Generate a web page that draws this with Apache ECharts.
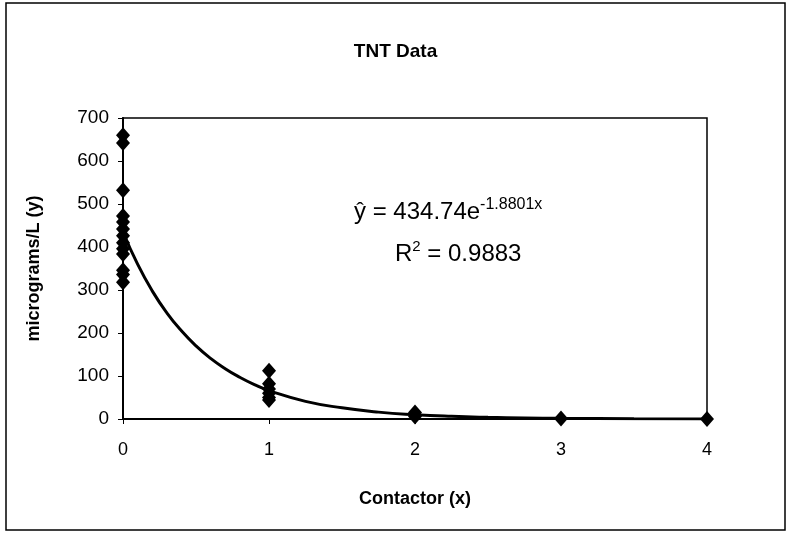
<!DOCTYPE html>
<html><head><meta charset="utf-8">
<script src="https://cdn.jsdelivr.net/npm/echarts@6/dist/echarts.min.js"></script>
<style>html,body{margin:0;padding:0;background:#fff}#c{width:791px;height:536px}</style>
</head><body><div id="c"></div>
<script>
var titleText = 'TNT Data';
var xName = 'Contactor (x)';
var yName = 'micrograms/L (y)';
var pointsX = [0,0,0,0,0,0,0,0,0,0,0,0,0, 1,1,1,1,1,1, 2,2,2, 3, 4];
var pointsY = [660,642,532,472,458,442,426,410,396,384,346,336,318, 112,82,70,60,50,44, 15,10,6, 1, 0];
var trendX = [0,0.1,0.2,0.3,0.4,0.5,0.6,0.7,0.8,0.9,1,1.25,1.5,1.75,2,2.25,2.5,2.75,3,3.5,4];
var trendY = [435,360,298,247,205,170,141,117,97,80,66,41,26,16,10,6.2,3.9,2.5,1.5,0.6,0.2];
var eqLine1 = 'ŷ = 434.74e';
var eqExp = '-1.8801x';
var eqLine2a = 'R';
var eqLine2b = '2';
var eqLine2c = ' = 0.9883';

var chart = echarts.init(document.getElementById('c'));
var font = 'Liberation Sans, Arial, sans-serif';
chart.setOption({
  animation:false,
  backgroundColor:'#fff',
  title:{text:titleText,left:'center',top:37,textStyle:{fontFamily:font,fontSize:19,fontWeight:'bold',color:'#000'}},
  grid:{left:123,top:118,right:84,bottom:117,show:true,borderColor:'#000',borderWidth:1.5,backgroundColor:'transparent'},
  xAxis:{type:'value',min:0,max:4,interval:1,name:xName,nameLocation:'middle',nameGap:71,
    nameTextStyle:{fontFamily:font,fontSize:18,fontWeight:'bold',color:'#000'},
    axisLine:{lineStyle:{color:'#000',width:2}},axisTick:{show:true,length:5,lineStyle:{color:'#000'}},
    axisLabel:{fontFamily:font,fontSize:18,color:'#000',margin:22},splitLine:{show:false}},
  yAxis:{type:'value',min:0,max:700,interval:100,name:yName,nameLocation:'middle',nameGap:80,
    nameTextStyle:{fontFamily:font,fontSize:18,fontWeight:'bold',color:'#000'},
    axisLine:{show:true,lineStyle:{color:'#000',width:2}},axisTick:{show:true,length:5,lineStyle:{color:'#000'}},
    axisLabel:{fontFamily:font,fontSize:19,color:'#000',margin:14},splitLine:{show:false}},
  series:[
    {type:'line',data:trendX.map(function(x,i){return [x,trendY[i]];}),smooth:true,showSymbol:false,
      lineStyle:{color:'#000',width:3},z:2},
    {type:'scatter',data:pointsX.map(function(x,i){return [x,pointsY[i]];}),symbol:'diamond',symbolSize:[14,16],
      itemStyle:{color:'#000',opacity:1},z:3}
  ],
  graphic:[
    {type:'rect',shape:{x:6,y:3,width:779,height:527},style:{fill:'none',stroke:'#000',lineWidth:1.5},silent:true},
    {type:'text',left:354,top:197,style:{text:'{a|'+eqLine1+'}{s|'+eqExp+'}',
      rich:{a:{fontFamily:font,fontSize:24,fill:'#000',lineHeight:28},
            s:{fontFamily:font,fontSize:16,fill:'#000',lineHeight:28,padding:[0,0,15,0]}}}},
    {type:'text',left:395,top:239,style:{text:'{a|'+eqLine2a+'}{s|'+eqLine2b+'}{a|'+eqLine2c+'}',
      rich:{a:{fontFamily:font,fontSize:24,fill:'#000',lineHeight:28},
            s:{fontFamily:font,fontSize:15,fill:'#000',lineHeight:28,padding:[0,0,15,0]}}}}
  ]
});
</script></body></html>
